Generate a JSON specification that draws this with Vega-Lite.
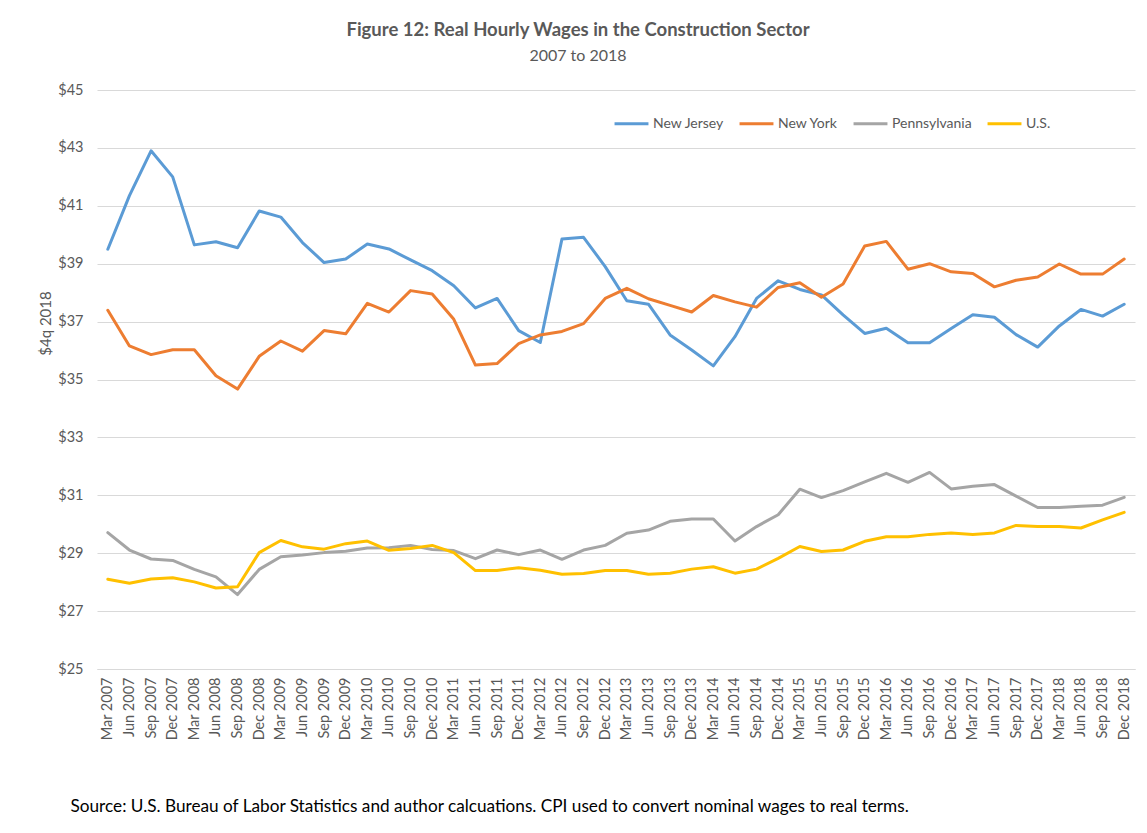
{
  "$schema": "https://vega.github.io/schema/vega-lite/v6.json",
  "width": 1038,
  "height": 579,
  "autosize": {"type": "none"},
  "padding": {"left": 97, "top": 90, "right": 12, "bottom": 164},
  "background": "white",
  "title": {
    "text": "Figure 12: Real Hourly Wages in the Construction Sector",
    "subtitle": "2007  to 2018",
    "anchor": "middle",
    "dx": -38,
    "offset": 18,
    "font": "Lato",
    "fontSize": 18.5,
    "fontWeight": "bold",
    "color": "#595959",
    "subtitleFont": "Lato",
    "subtitleFontSize": 16,
    "subtitleColor": "#595959",
    "subtitlePadding": 9
  },
  "data": {
    "values": [
      {"q": "Mar 2007", "NJ": 39.50, "NY": 37.39, "PA": 29.71, "US": 28.10},
      {"q": "Jun 2007", "NJ": 41.35, "NY": 36.16, "PA": 29.11, "US": 27.96},
      {"q": "Sep 2007", "NJ": 42.90, "NY": 35.86, "PA": 28.80, "US": 28.11},
      {"q": "Dec 2007", "NJ": 42.00, "NY": 36.03, "PA": 28.75, "US": 28.15},
      {"q": "Mar 2008", "NJ": 39.65, "NY": 36.03, "PA": 28.44, "US": 28.01},
      {"q": "Jun 2008", "NJ": 39.76, "NY": 35.13, "PA": 28.18, "US": 27.80},
      {"q": "Sep 2008", "NJ": 39.55, "NY": 34.67, "PA": 27.57, "US": 27.84},
      {"q": "Dec 2008", "NJ": 40.82, "NY": 35.80, "PA": 28.44, "US": 29.02},
      {"q": "Mar 2009", "NJ": 40.61, "NY": 36.33, "PA": 28.88, "US": 29.44},
      {"q": "Jun 2009", "NJ": 39.73, "NY": 35.98, "PA": 28.94, "US": 29.22},
      {"q": "Sep 2009", "NJ": 39.04, "NY": 36.69, "PA": 29.02, "US": 29.14},
      {"q": "Dec 2009", "NJ": 39.16, "NY": 36.58, "PA": 29.07, "US": 29.33},
      {"q": "Mar 2010", "NJ": 39.68, "NY": 37.63, "PA": 29.18, "US": 29.42},
      {"q": "Jun 2010", "NJ": 39.51, "NY": 37.33, "PA": 29.19, "US": 29.10},
      {"q": "Sep 2010", "NJ": 39.13, "NY": 38.07, "PA": 29.27, "US": 29.16},
      {"q": "Dec 2010", "NJ": 38.76, "NY": 37.95, "PA": 29.13, "US": 29.27},
      {"q": "Mar 2011", "NJ": 38.24, "NY": 37.08, "PA": 29.09, "US": 29.02},
      {"q": "Jun 2011", "NJ": 37.47, "NY": 35.50, "PA": 28.81, "US": 28.40},
      {"q": "Sep 2011", "NJ": 37.80, "NY": 35.55, "PA": 29.11, "US": 28.40},
      {"q": "Dec 2011", "NJ": 36.69, "NY": 36.24, "PA": 28.95, "US": 28.50},
      {"q": "Mar 2012", "NJ": 36.28, "NY": 36.54, "PA": 29.11, "US": 28.41},
      {"q": "Jun 2012", "NJ": 39.85, "NY": 36.66, "PA": 28.79, "US": 28.27},
      {"q": "Sep 2012", "NJ": 39.91, "NY": 36.93, "PA": 29.11, "US": 28.30},
      {"q": "Dec 2012", "NJ": 38.90, "NY": 37.80, "PA": 29.27, "US": 28.40},
      {"q": "Mar 2013", "NJ": 37.72, "NY": 38.15, "PA": 29.69, "US": 28.40},
      {"q": "Jun 2013", "NJ": 37.60, "NY": 37.79, "PA": 29.80, "US": 28.27},
      {"q": "Sep 2013", "NJ": 36.54, "NY": 37.56, "PA": 30.10, "US": 28.31},
      {"q": "Dec 2013", "NJ": 36.02, "NY": 37.33, "PA": 30.18, "US": 28.45},
      {"q": "Mar 2014", "NJ": 35.47, "NY": 37.90, "PA": 30.18, "US": 28.53},
      {"q": "Jun 2014", "NJ": 36.48, "NY": 37.68, "PA": 29.42, "US": 28.31},
      {"q": "Sep 2014", "NJ": 37.80, "NY": 37.50, "PA": 29.92, "US": 28.45},
      {"q": "Dec 2014", "NJ": 38.41, "NY": 38.18, "PA": 30.33, "US": 28.82},
      {"q": "Mar 2015", "NJ": 38.11, "NY": 38.34, "PA": 31.21, "US": 29.23},
      {"q": "Jun 2015", "NJ": 37.92, "NY": 37.84, "PA": 30.92, "US": 29.06},
      {"q": "Sep 2015", "NJ": 37.23, "NY": 38.30, "PA": 31.16, "US": 29.11},
      {"q": "Dec 2015", "NJ": 36.59, "NY": 39.61, "PA": 31.46, "US": 29.41},
      {"q": "Mar 2016", "NJ": 36.77, "NY": 39.77, "PA": 31.76, "US": 29.57},
      {"q": "Jun 2016", "NJ": 36.27, "NY": 38.81, "PA": 31.45, "US": 29.57},
      {"q": "Sep 2016", "NJ": 36.27, "NY": 39.00, "PA": 31.79, "US": 29.65},
      {"q": "Dec 2016", "NJ": 36.76, "NY": 38.72, "PA": 31.22, "US": 29.70},
      {"q": "Mar 2017", "NJ": 37.24, "NY": 38.66, "PA": 31.31, "US": 29.65},
      {"q": "Jun 2017", "NJ": 37.15, "NY": 38.20, "PA": 31.37, "US": 29.70},
      {"q": "Sep 2017", "NJ": 36.55, "NY": 38.43, "PA": 30.97, "US": 29.96},
      {"q": "Dec 2017", "NJ": 36.12, "NY": 38.54, "PA": 30.58, "US": 29.92},
      {"q": "Mar 2018", "NJ": 36.85, "NY": 38.99, "PA": 30.58, "US": 29.92},
      {"q": "Jun 2018", "NJ": 37.42, "NY": 38.64, "PA": 30.62, "US": 29.87},
      {"q": "Sep 2018", "NJ": 37.19, "NY": 38.64, "PA": 30.66, "US": 30.15},
      {"q": "Dec 2018", "NJ": 37.60, "NY": 39.16, "PA": 30.93, "US": 30.41}
    ]
  },
  "transform": [
    {"fold": ["NJ", "NY", "PA", "US"], "as": ["series", "wage"]}
  ],
  "mark": {"type": "line", "strokeWidth": 3, "strokeCap": "round", "strokeJoin": "round"},
  "encoding": {
    "x": {
      "field": "q",
      "type": "ordinal",
      "sort": null,
      "scale": {"type": "point", "padding": 0.5},
      "axis": {
        "title": "Source: U.S. Bureau of Labor Statistics and author calcuations. CPI used to convert nominal wages to real terms.",
        "titleFont": "Lato",
        "titleFontSize": 17.2,
        "titleFontWeight": "normal",
        "titleColor": "#000000",
        "titleAnchor": "start",
        "titleAlign": "left",
        "titleBaseline": "middle",
        "titleX": -27,
        "titleY": 137,
        "labelAngle": -90,
        "labelFont": "Lato",
        "labelFontSize": 14.5,
        "labelColor": "#595959",
        "labelPadding": 8,
        "ticks": false,
        "domainColor": "#d9d9d9",
        "domainWidth": 1,
        "grid": false
      }
    },
    "y": {
      "field": "wage",
      "type": "quantitative",
      "scale": {"domain": [25, 45], "nice": false, "zero": false},
      "axis": {
        "values": [25, 27, 29, 31, 33, 35, 37, 39, 41, 43, 45],
        "labelExpr": "'$' + datum.value",
        "title": "$4q 2018",
        "titleFont": "Lato",
        "titleFontSize": 15,
        "titleFontWeight": "normal",
        "titleColor": "#595959",
        "titleX": -52,
        "titleY": 233,
        "titleAngle": -90,
        "titleAlign": "center",
        "titleBaseline": "middle",
        "labelFont": "Lato",
        "labelFontSize": 14.5,
        "labelColor": "#595959",
        "labelPadding": 14,
        "domain": false,
        "ticks": false,
        "grid": true,
        "gridColor": "#d9d9d9",
        "gridWidth": 1
      }
    },
    "color": {
      "field": "series",
      "type": "nominal",
      "scale": {
        "domain": ["NJ", "NY", "PA", "US"],
        "range": ["#5B9BD5", "#ED7D31", "#A5A5A5", "#FFC000"]
      },
      "legend": {
        "title": null,
        "orient": "none",
        "legendX": 516,
        "legendY": 15,
        "direction": "horizontal",
        "labelExpr": "{'NJ': 'New Jersey', 'NY': 'New York', 'PA': 'Pennsylvania', 'US': 'U.S.'}[datum.label]",
        "labelFont": "Lato",
        "labelFontSize": 14,
        "labelColor": "#595959",
        "labelOffset": 3,
        "columnPadding": 9,
        "symbolType": "stroke",
        "symbolSize": 1150,
        "symbolStrokeWidth": 3
      }
    }
  },
  "config": {
    "view": {"stroke": null}
  }
}
